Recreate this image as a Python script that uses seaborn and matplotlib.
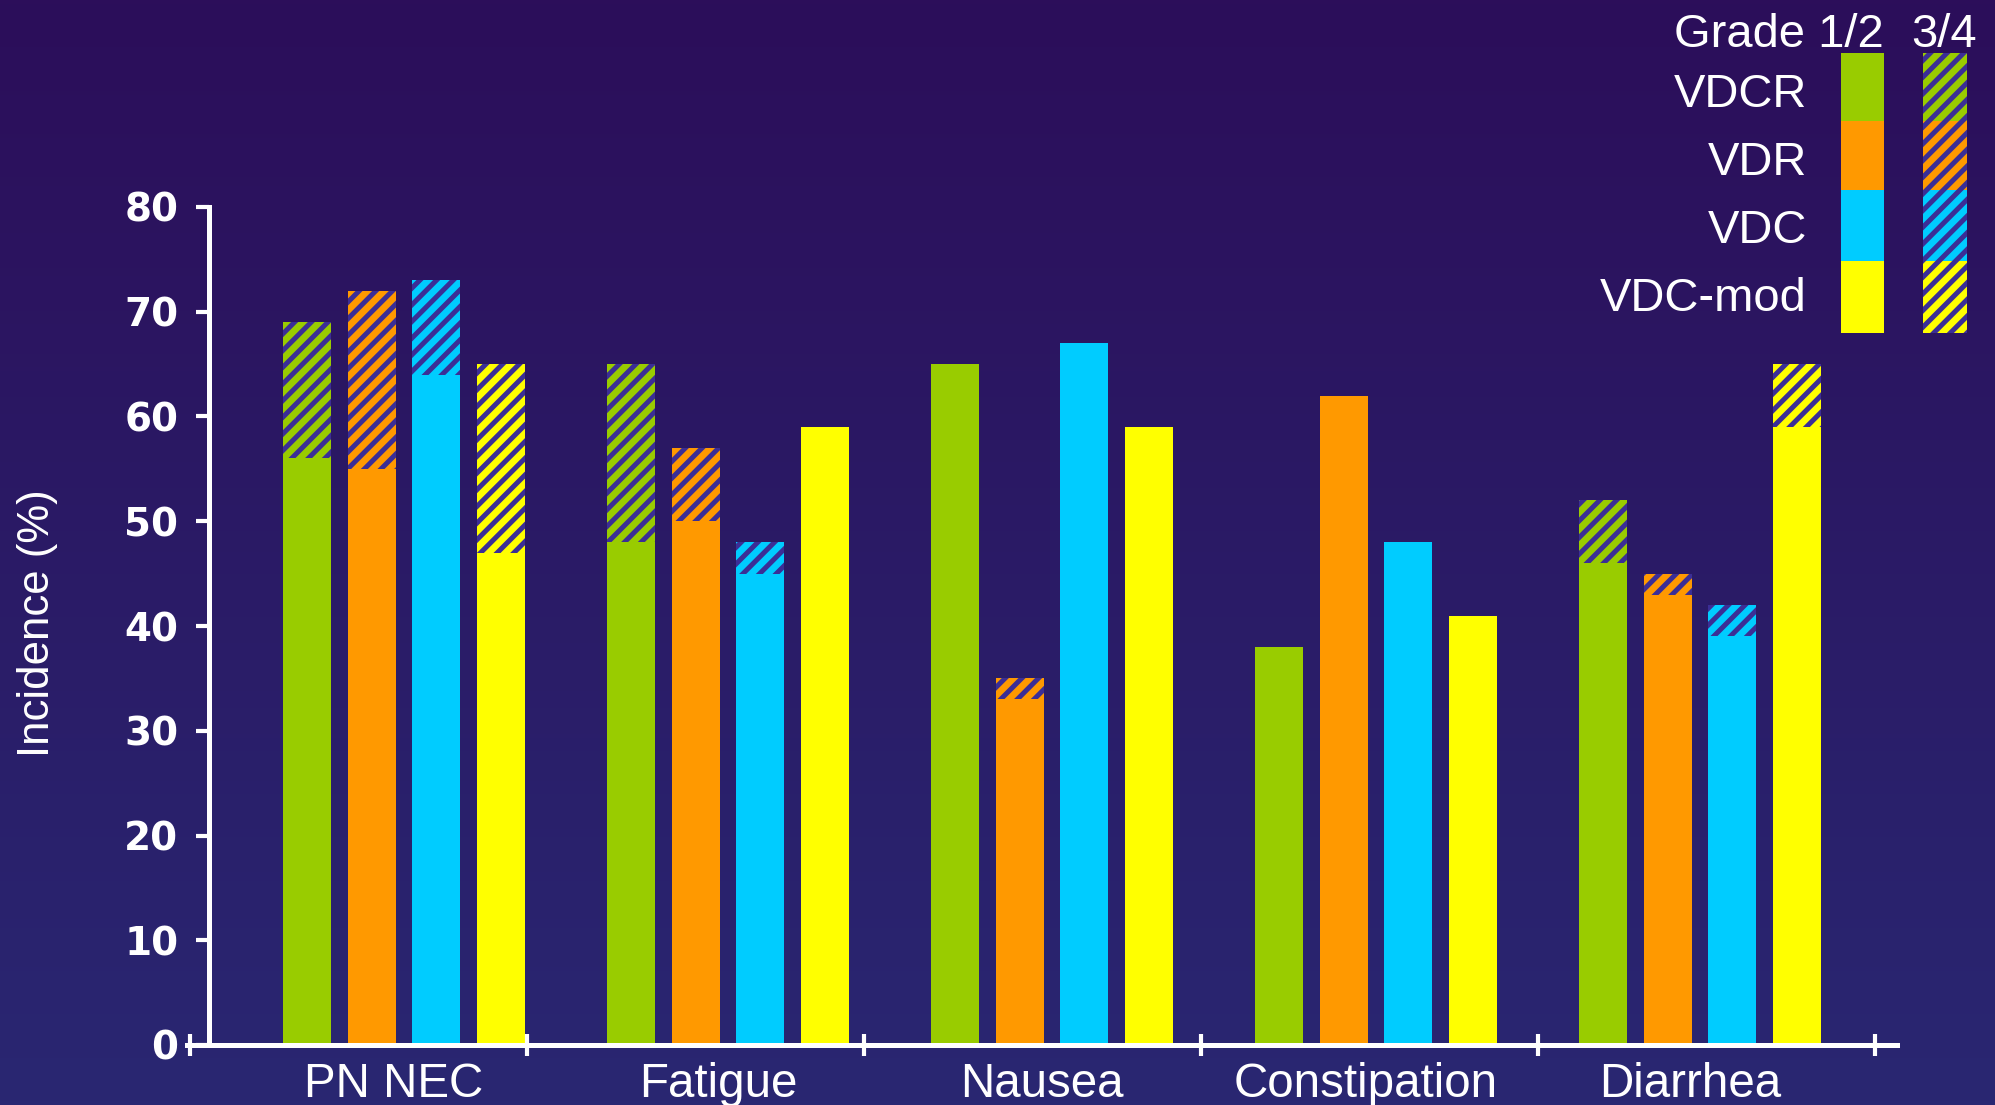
import numpy as np
import pandas as pd
import matplotlib
matplotlib.use("Agg")
import matplotlib.pyplot as plt
import seaborn as sns
from matplotlib.patches import Rectangle
from matplotlib.colors import LinearSegmentedColormap
from matplotlib.transforms import ScaledTranslation

# ---------------- data ----------------
categories = ["PN NEC", "Fatigue", "Nausea", "Constipation", "Diarrhea"]
regimens = ["VDCR", "VDR", "VDC", "VDC-mod"]
grade12_vdcr = [56, 48, 65, 38, 46]
grade12_vdr = [55, 50, 33, 62, 43]
grade12_vdc = [64, 45, 67, 48, 39]
grade12_vdcmod = [47, 59, 59, 41, 59]
grade34_vdcr = [13, 17, 0, 0, 6]
grade34_vdr = [17, 7, 2, 0, 2]
grade34_vdc = [9, 3, 0, 0, 3]
grade34_vdcmod = [18, 0, 0, 0, 6]
yticks = [0, 10, 20, 30, 40, 50, 60, 70, 80]

# ---------------- style ----------------
W, H, DPI = 1995, 1105, 150
colors = {"VDCR": "#99cc00", "VDR": "#ff9900", "VDC": "#00ccff", "VDC-mod": "#ffff00"}
stripe = "#3b2e96"
HATCH = "///"
plt.rcParams["font.family"] = ["Liberation Sans", "DejaVu Sans"]
plt.rcParams["hatch.linewidth"] = 2.4

g12 = {"VDCR": grade12_vdcr, "VDR": grade12_vdr, "VDC": grade12_vdc, "VDC-mod": grade12_vdcmod}
g34 = {"VDCR": grade34_vdcr, "VDR": grade34_vdr, "VDC": grade34_vdc, "VDC-mod": grade34_vdcmod}
rows = []
for r in regimens:
    for c, a, b in zip(categories, g12[r], g34[r]):
        rows.append({"category": c, "regimen": r, "g12": a, "total": a + b})
df = pd.DataFrame(rows)

fig = plt.figure(figsize=(W / DPI, H / DPI), dpi=DPI)

# gradient background
bg = fig.add_axes([0, 0, 1, 1], zorder=-10)
cmap = LinearSegmentedColormap.from_list("bg", ["#2c0e5a", "#292772"])
bg.imshow(np.linspace(0, 1, 256)[:, None], aspect="auto", cmap=cmap,
          extent=[0, 1, 0, 1], origin="upper")
bg.axis("off")

ax = fig.add_axes([187 / W, 60 / H, 1710 / W, 838 / H])
ax.set_facecolor("none")

sns.barplot(data=df, x="category", y="total", hue="regimen", order=categories,
            hue_order=regimens, palette=colors, width=0.8, gap=0.26, dodge=True,
            saturation=1, legend=False, linewidth=0, errorbar=None, ax=ax)
for p in ax.patches:
    p.set_hatch(HATCH)
    p.set_edgecolor(stripe)
    p.set_linewidth(0)
n_hatched = len(ax.patches)
sns.barplot(data=df, x="category", y="g12", hue="regimen", order=categories,
            hue_order=regimens, palette=colors, width=0.8, gap=0.26, dodge=True,
            saturation=1, legend=False, linewidth=0, errorbar=None, ax=ax)
for p in ax.patches[n_hatched:]:
    p.set_edgecolor("none")
    p.set_linewidth(0)

ax.set_xlim(-0.67, 4.608)
ax.set_ylim(0, 80)
ax.set_xlabel("")
ax.set_ylabel("")

for s in ["top", "right"]:
    ax.spines[s].set_visible(False)
ax.spines["left"].set_position(("data", -0.602))
ax.spines["left"].set_bounds(0, 80)
for s in ["left", "bottom"]:
    ax.spines[s].set_color("white")
    ax.spines[s].set_linewidth(2.4)

# y axis
ax.set_yticks(yticks)
ax.set_yticklabels([str(v) for v in yticks])
ax.tick_params(axis="y", direction="out", length=6.2, width=2, color="white",
               pad=8.6, labelcolor="white", labelsize=18.7)
for t in ax.get_yticklabels():
    t.set_fontfamily("DejaVu Sans")
    t.set_fontweight("bold")

# x axis
ax.set_xticks(range(len(categories)))
ax.set_xticklabels(categories)
ax.tick_params(axis="x", which="major", length=0, pad=8, labelcolor="white",
               labelsize=22.8)
off = ScaledTranslation(-10 / DPI, 0, fig.dpi_scale_trans)
for t in ax.get_xticklabels():
    t.set_transform(t.get_transform() + off)
ax.set_xticks([-0.66, 0.38, 1.42, 2.46, 3.50, 4.54], minor=True)
ax.tick_params(axis="x", which="minor", direction="inout", length=10.6, width=2,
               color="white")

fig.text(38 / W, 0.5 - (623 - 552.5) / H, "Incidence (%)", rotation=90,
         ha="center", va="center", color="white", fontsize=21)

# legend (manual)
fig.text(1884 / W, 1 - 47 / H, "Grade 1/2", ha="right", va="baseline",
         color="white", fontsize=22.6)
fig.text(1977 / W, 1 - 47 / H, "3/4", ha="right", va="baseline",
         color="white", fontsize=22.6)
row_tops = [53, 121, 190, 261]
row_bots = [121, 190, 261, 333]
baselines = [107, 175, 243, 311]
for r, top, bot, bl in zip(regimens, row_tops, row_bots, baselines):
    fig.text(1807 / W, 1 - bl / H, r, ha="right", va="baseline",
             color="white", fontsize=22.6)
    fig.add_artist(Rectangle((1841 / W, 1 - bot / H), 43 / W, (bot - top) / H,
                             transform=fig.transFigure, facecolor=colors[r],
                             linewidth=0))
    fig.add_artist(Rectangle((1923 / W, 1 - bot / H), 44 / W, (bot - top) / H,
                             transform=fig.transFigure, facecolor=colors[r],
                             edgecolor=stripe, hatch=HATCH, linewidth=0))

fig.savefig("out.png", dpi=DPI)
